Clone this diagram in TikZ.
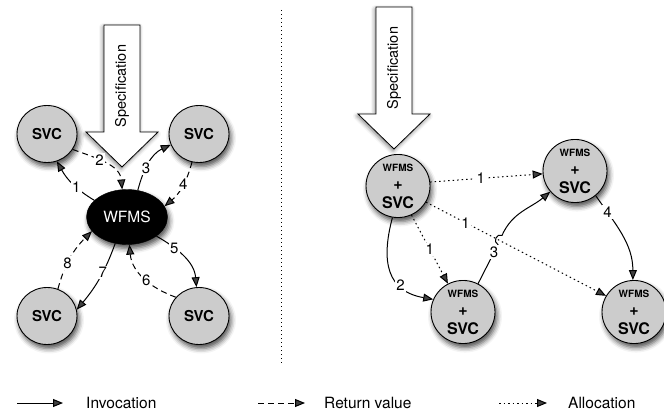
\documentclass[tikz,border=0pt]{standalone}
\usepackage{fontspec}
\setmainfont{TeX Gyre Heros}
\usetikzlibrary{%
  shapes.geometric,%
  positioning,%
  arrows.meta,%
  shadows.blur%
}

\begin{document}
\begin{tikzpicture}[
      x=1pt, y=-1pt,
      every text node part/.style={align=center},
      shade/.style={
        blur shadow={shadow xshift=2pt, shadow yshift=-4pt,
          shadow blur radius=5pt, shadow opacity=70}
      },
      svc/.style={
        ellipse,
        draw,
        line width=0.9pt,
        fill=gray!40,
        minimum width=60pt,
        minimum height=57pt,
        inner sep=0pt,
        shade,
        font=\fontsize{15}{15}\selectfont\bfseries
      },
      both/.style={
        svc,
        minimum width=64pt,
        minimum height=62pt,
        font=\fontsize{16}{18.5}\selectfont\bfseries
      },
      engine/.style={
        ellipse,
        draw,
        fill=black,
        text=white,
        minimum width=81pt,
        minimum height=55pt,
        shade,
        font=\fontsize{15.5}{15.5}\selectfont
      },
      spec/.style={
        draw,
        fill=white,
        line width=0.8pt,
        blur shadow={shadow xshift=-1pt, shadow yshift=-2pt,
          shadow blur radius=4pt, shadow opacity=50}
      },
      lbl/.style={
        fill=white,
        inner sep=1.5pt,
        font=\fontsize{15}{15}\selectfont
      },
      legend/.style={font=\fontsize{15.5}{15.5}\selectfont},
      node distance=21pt,
      >={Triangle[length=10pt, width=8pt]},
      invokes/.style={->, line width=1pt},
      returns/.style={invokes, dash pattern=on 6pt off 4pt},
      allocates/.style={invokes, dash pattern=on 1.5pt off 3pt}
    ]
    \useasboundingbox (0,0) rectangle (664,414);

    % specification arrows
    \foreach \sx/\sy/\nm in {122/25/specL, 394/7/specR} {
      \draw[spec] (\sx-18,\sy) -- (\sx+18,\sy) -- (\sx+18,\sy+107)
        -- (\sx+36,\sy+107) -- (\sx,\sy+142) -- (\sx-36,\sy+107)
        -- (\sx-18,\sy+107) -- cycle;
      \node[rotate=90, font=\fontsize{14.5}{14.5}\selectfont]
        (\nm) at (\sx,\sy+61) {Specification};
    }

    % central engine
    \node[engine] (wfms) at (127,217) {WFMS};
    \node[svc] (svcTL) at (47,134) {SVC};
    \node[svc] (svcTR) at (199,134) {SVC};
    \node[svc] (svcBL) at (47,316) {SVC};
    \node[svc] (svcBR) at (199,316) {SVC};

    \draw[invokes] (wfms.153) to[bend left=15] node[lbl, pos=0.4] {1} (svcTL.290);
    \draw[returns] (svcTL.329) to[out=-20, in=95] node[lbl, pos=0.4] {2} (wfms.100);
    \draw[invokes] (wfms.68) to[out=75, in=205] node[lbl, pos=0.4] {3} (svcTR.201);
    \draw[returns] (svcTR.256) to[out=255, in=40] node[lbl, pos=0.45] {4} (wfms.16);
    \draw[invokes] (wfms.327) to[out=-30, in=95] node[lbl, pos=0.3] {5} (svcBR.95);
    \draw[returns] (svcBR.141) to[out=160, in=-85] node[lbl, pos=0.45] {6} (wfms.275);
    \draw[invokes] (wfms.246) to[out=-110, in=50] node[lbl, pos=0.4] {7} (svcBL.12);
    \draw[returns] (svcBL.68) to[out=75, in=225] node[lbl, pos=0.4] {8} (wfms.202);

    % divider
    \draw[line width=0.8pt, dash pattern=on 1pt off 3pt] (281,10) -- (281,363);

    % distributed engines
    \node[both] (wsA) at (398,186)
      {{\fontsize{10}{18.5}\selectfont WFMS}\\+\\SVC};
    \node[both] (wsB) at (575,171)
      {{\fontsize{10}{18.5}\selectfont WFMS}\\+\\SVC};
    \node[both] (wsC) at (463,312)
      {{\fontsize{10}{18.5}\selectfont WFMS}\\+\\SVC};
    \node[both] (wsD) at (634,312)
      {{\fontsize{10}{18.5}\selectfont WFMS}\\+\\SVC};

    \coordinate (hopS) at (498,244.6);
    \coordinate (hopE) at (502,235.4);

    \draw[allocates] (wsA.7) -- node[lbl, pos=0.45] {1} (wsB.185);
    \draw[allocates] (wsA.330) -- node[lbl, pos=0.22] {1} (wsD.150);
    \draw[allocates] (wsA.295) -- node[lbl] {1} (wsC.118);
    \draw[invokes] (wsA.260) to[out=-105, in=170, looseness=1.3]
      node[lbl, pos=0.68] {2} (wsC.157);
    \draw[invokes] (wsC.62) -- node[lbl, pos=0.8] {3} (hopS)
      .. controls +(-5.5,-2.5) and +(-5.5,-2.5) .. (hopE)
      to[out=66, in=220] (wsB.220);
    \draw[invokes] (wsB.310) to[out=-55, in=90] node[lbl, pos=0.2] {4} (wsD.92);

    % legend
    \coordinate (invS) at (17,403);
    \coordinate (invE) at (63,403);
    \coordinate (retS) at (258,403);
    \coordinate (retE) at (305,403);
    \coordinate (allS) at (499,403);
    \coordinate (allE) at (547,403);
    \draw[invokes] (invS) -- (invE);
    \draw[returns] (retS) -- (retE);
    \draw[allocates] (allS) -- (allE);
    \node[legend, right=23pt of invE, inner sep=0pt] (invText) {Invocation};
    \node[legend, right=19pt of retE, inner sep=0pt] (retText) {Return value};
    \node[legend, right=of allE, inner sep=0pt] (allText) {Allocation};
  \end{tikzpicture}
\end{document}
